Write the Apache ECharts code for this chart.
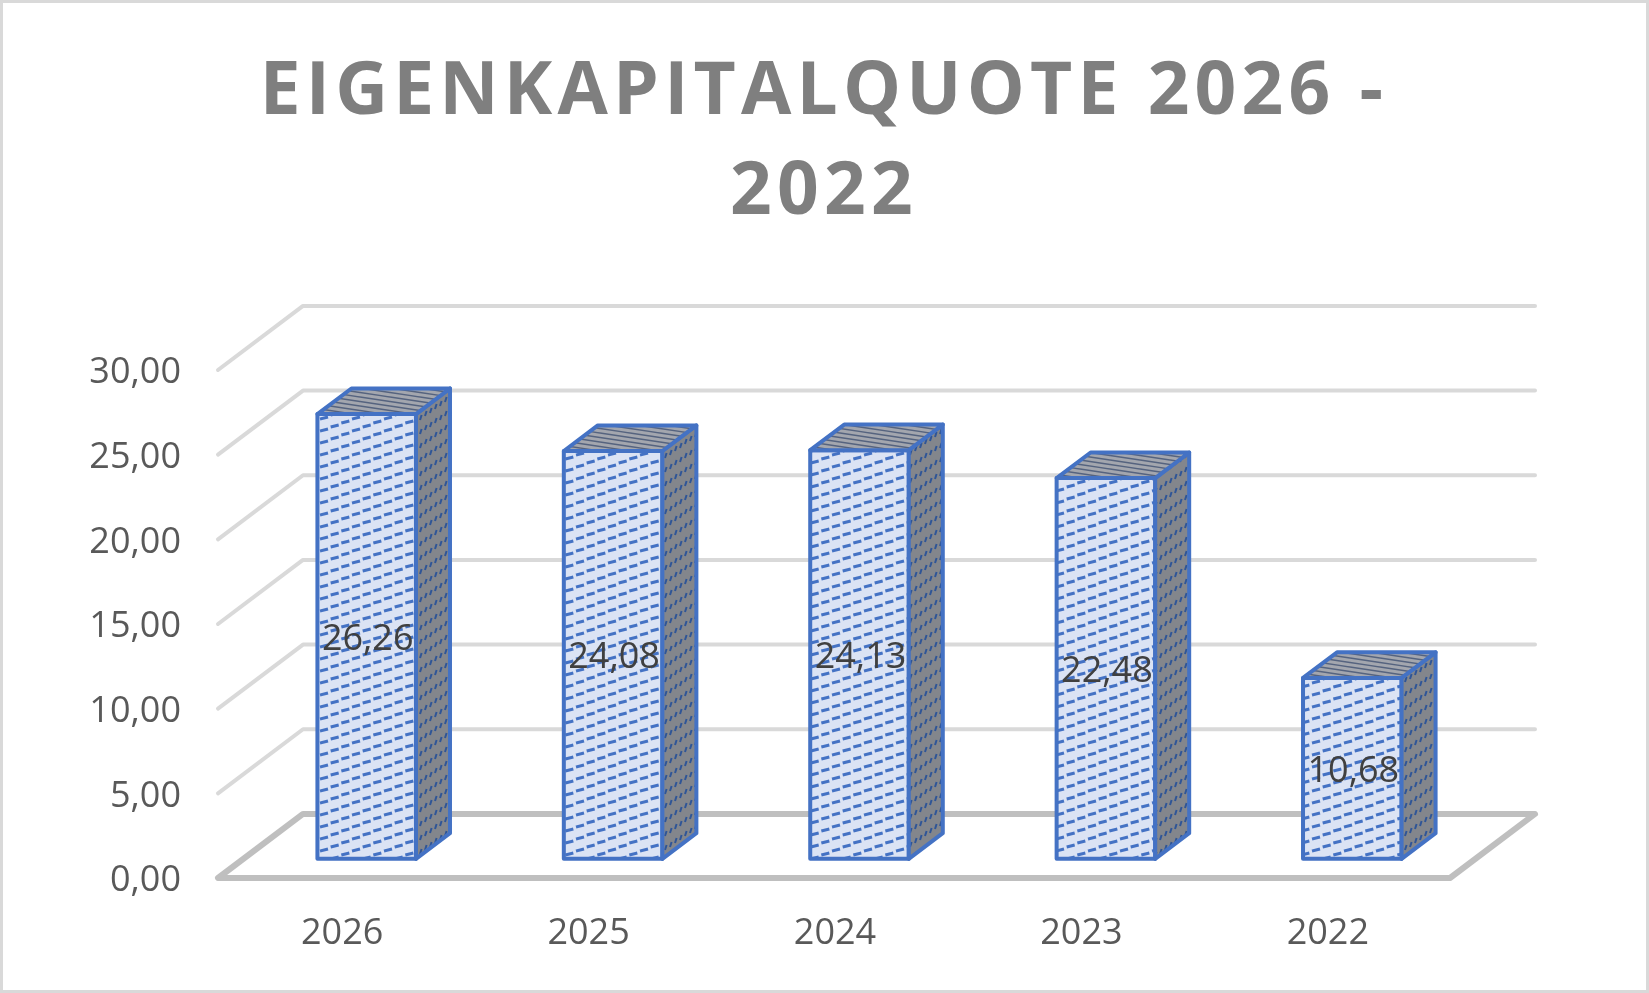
<!DOCTYPE html>
<html>
<head>
<meta charset="utf-8">
<style>html,body{margin:0;padding:0;background:#fff}#c{width:1649px;height:993px}</style>
<script src="https://cdn.jsdelivr.net/npm/echarts@6/dist/echarts.min.js"></script>
</head>
<body>
<div id="c"></div>
<script>
const titleText = 'EIGENKAPITALQUOTE 2026 -\n2022';
const categories = ['2026', '2025', '2024', '2023', '2022'];
const quota = [26.26, 24.08, 24.13, 22.48, 10.68];
const wallTicks = [5, 10, 15, 20, 25, 30];
const floorTick = [0];

const fmt = v => v.toFixed(2).replace('.', ',');

// Title letter spacing (canvas text has no option for it in the library)
const origFill = CanvasRenderingContext2D.prototype.fillText;
CanvasRenderingContext2D.prototype.fillText = function (t, x, y, m) {
  this.letterSpacing = this.font.indexOf('73px') >= 0 ? '5.2px' : '0px';
  return m === undefined ? origFill.call(this, t, x, y) : origFill.call(this, t, x, y, m);
};

function tile(w, h, bg, color, lw, segs) {
  const c = document.createElement('canvas');
  c.width = w; c.height = h;
  const g = c.getContext('2d');
  g.fillStyle = bg; g.fillRect(0, 0, w, h);
  g.strokeStyle = color; g.lineWidth = lw; g.lineCap = 'butt';
  for (const s of segs) {
    for (const ox of [-w, 0, w]) for (const oy of [-h, 0, h]) {
      g.beginPath(); g.moveTo(s[0] + ox, s[1] + oy); g.lineTo(s[2] + ox, s[3] + oy); g.stroke();
    }
  }
  return c;
}
// Front face: stair-stepped dashed upward diagonal
const frontSegs = [[0, 11, 8, 9], [10.67, 7, 18.67, 5], [21.33, 3, 29.33, 1]];
const frontFill = { image: tile(32, 12, '#dbe3f4', '#4472c4', 3, frontSegs), repeat: 'repeat' };
// Side face: steep dashes on gray
const sideSegs = [[0, 14, 1.6, 9], [5, 10, 6.6, 5], [10, 7, 11.6, 2], [15, 3, 16.6, -2]];
const sideFill = { image: tile(20, 14, '#83868c', '#2f5597', 2, sideSegs), repeat: 'repeat' };
// Top face: thin, slightly falling lines on gray
const topSegs = [[0, 1, 30, 5.5], [0, 5.5, 30, 10], [0, 10, 30, 14.5], [0, 14.5, 30, 19]];
const topFill = { image: tile(30, 18, '#a3a6ae', '#55637f', 1.3, topSegs), repeat: 'repeat' };

const DEPTH_X = 0.345;   // floor depth as a share of the band width
const DEPTH_Y = 0.26;
const GAP = 0.6;         // share of the band left empty beside the bar
const NEAR = 0.3, FAR = 0.7; // bar extent along the floor depth

const chart = echarts.init(document.getElementById('c'));
chart.setOption({
  animation: false,
  backgroundColor: '#fff',
  graphic: [{
    type: 'rect', silent: true, z: -1,
    shape: { x: 1.5, y: 1.5, width: 1646, height: 990 },
    style: { fill: 'none', stroke: '#d9d9d9', lineWidth: 3 }
  }],
  title: {
    text: titleText, left: 819, top: 38, textAlign: 'center',
    textStyle: { fontFamily: 'Open Sans', fontWeight: 'bold', fontSize: 73, lineHeight: 100, color: '#7f7f7f' }
  },
  grid: { left: 218, right: 199, top: 370, bottom: 115 },
  xAxis: {
    type: 'category', data: categories,
    axisLine: { show: false }, axisTick: { show: false }, splitLine: { show: false },
    axisLabel: { margin: 38, padding: [0, 0, 0, 2], fontFamily: 'Open Sans', fontSize: 36, color: '#595959' }
  },
  yAxis: {
    type: 'value', min: 0, max: 30, interval: 5,
    axisLine: { show: false }, axisTick: { show: false }, splitLine: { show: false },
    axisLabel: { margin: 37, verticalAlign: 'top', lineHeight: 6, fontFamily: 'Open Sans', fontSize: 36, color: '#595959', formatter: v => fmt(v) }
  },
  series: [
    {
      type: 'custom', name: 'wall', silent: true, z: 1,
      data: wallTicks.map(v => [0, v]),
      renderItem(params, api) {
        const cs = params.coordSys;
        const band = cs.width / categories.length;
        const y = api.coord([0, api.value(1)])[1];
        const dx = band * DEPTH_X, dy = band * DEPTH_Y;
        return {
          type: 'polyline',
          shape: { points: [[cs.x, y], [cs.x + dx, y - dy], [cs.x + cs.width + dx, y - dy]] },
          style: { fill: 'none', stroke: '#d9d9d9', lineWidth: 4, lineJoin: 'round', lineCap: 'round' }
        };
      }
    },
    {
      type: 'custom', name: 'floor', silent: true, z: 2,
      data: floorTick.map(v => [0, v]),
      renderItem(params, api) {
        const cs = params.coordSys;
        const band = cs.width / categories.length;
        const y = api.coord([0, api.value(1)])[1];
        const dx = band * DEPTH_X, dy = band * DEPTH_Y;
        return {
          type: 'polygon',
          shape: { points: [[cs.x, y], [cs.x + cs.width, y], [cs.x + cs.width + dx, y - dy], [cs.x + dx, y - dy]] },
          style: { fill: 'none', stroke: '#bfbfbf', lineWidth: 6, lineJoin: 'round' }
        };
      }
    },
    {
      type: 'custom', name: 'Eigenkapitalquote', z: 3,
      encode: { x: 0, y: 1 },
      data: quota.map((v, i) => [i, v]),
      renderItem(params, api) {
        const cs = params.coordSys;
        const band = cs.width / categories.length;
        const v = api.value(1);
        const top = api.coord([api.value(0), v]);
        const base = api.coord([api.value(0), 0]);
        const w = api.size([1, 0])[0] * (1 - GAP);
        const fx = band * DEPTH_X * NEAR, fy = band * DEPTH_Y * NEAR;
        const ddx = band * DEPTH_X * (FAR - NEAR), ddy = band * DEPTH_Y * (FAR - NEAR);
        const x0 = top[0] + fx - w / 2, x1 = x0 + w;
        const yt = top[1] - fy, yb = base[1] - fy;
        const stroke = { stroke: '#4472c4', lineWidth: 4, lineJoin: 'round' };
        return {
          type: 'group',
          children: [
            { type: 'polygon', shape: { points: [[x0, yt], [x1, yt], [x1, yb], [x0, yb]] },
              style: Object.assign({ fill: frontFill }, stroke) },
            { type: 'polygon', shape: { points: [[x1, yt], [x1 + ddx, yt - ddy], [x1 + ddx, yb - ddy], [x1, yb]] },
              style: Object.assign({ fill: sideFill }, stroke) },
            { type: 'polygon', shape: { points: [[x0, yt], [x0 + ddx, yt - ddy], [x1 + ddx, yt - ddy], [x1, yt]] },
              style: Object.assign({ fill: topFill }, stroke) },
            { type: 'text', style: {
                x: (x0 + x1) / 2 + 1, y: (yt + yb) / 2 + 3, text: fmt(v), align: 'center', verticalAlign: 'middle',
                fontFamily: 'Open Sans', fontSize: 36, fill: '#404040'
              } }
          ]
        };
      }
    }
  ]
});
</script>
</body>
</html>
